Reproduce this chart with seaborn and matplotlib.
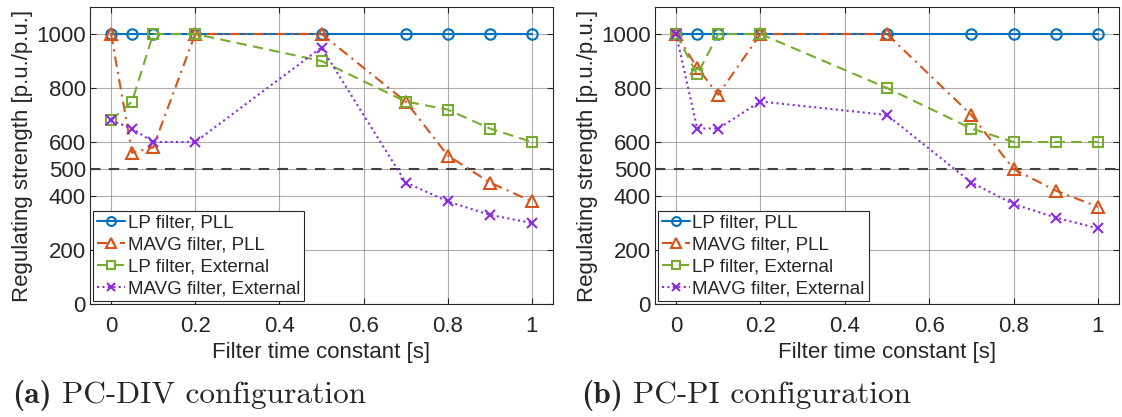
import numpy as np
import pandas as pd
import matplotlib
matplotlib.use("Agg")
import matplotlib.pyplot as plt
import seaborn as sns

# ---- data ----
time_constants = [0, 0.05, 0.1, 0.2, 0.5, 0.7, 0.8, 0.9, 1.0]
series_names = ["LP filter, PLL", "MAVG filter, PLL", "LP filter, External", "MAVG filter, External"]

div_lp_pll = [1000, 1000, 1000, 1000, 1000, 1000, 1000, 1000, 1000]
div_mavg_pll = [1000, 560, 580, 1000, 1000, 750, 550, 450, 380]
div_lp_ext = [680, 750, 1000, 1000, 900, 750, 720, 650, 600]
div_mavg_ext = [680, 650, 600, 600, 950, 450, 380, 330, 300]

pi_lp_pll = [1000, 1000, 1000, 1000, 1000, 1000, 1000, 1000, 1000]
pi_mavg_pll = [1000, 875, 775, 1000, 1000, 700, 500, 420, 360]
pi_lp_ext = [1000, 850, 1000, 1000, 800, 650, 600, 600, 600]
pi_mavg_ext = [1000, 650, 650, 750, 700, 450, 370, 320, 280]

threshold = 500
y_ticks = [0, 200, 400, 500, 600, 800, 1000]
x_ticks = [0, 0.2, 0.4, 0.6, 0.8, 1]
x_tick_labels = ["0", "0.2", "0.4", "0.6", "0.8", "1"]
captions = [("(a)", "PC-DIV configuration"), ("(b)", "PC-PI configuration")]

# ---- style ----
sns.set_theme(style="white")
plt.rcParams['font.family'] = ['Liberation Sans', 'DejaVu Sans']

colors = ["#0072BD", "#D95319", "#77AC30", "#8A2BE2"]
markers = ["o", "^", "s", "x"]
linestyles = ["-", (0, (5, 2.5, 1, 2.5)), (0, (5, 3)), (0, (1, 1.6))]
msizes = [7.5, 9, 6.5, 7]

fig = plt.figure(figsize=(11.22, 4.17), dpi=100)
W, H = 1122, 417
ax_boxes = [(90, 7, 553, 304), (655, 7, 1119, 304)]

panels = [
    [div_lp_pll, div_mavg_pll, div_lp_ext, div_mavg_ext],
    [pi_lp_pll, pi_mavg_pll, pi_lp_ext, pi_mavg_ext],
]

tc = "#262626"
FS = 16
for i, (box, panel) in enumerate(zip(ax_boxes, panels)):
    x0, y0, x1, y1 = box
    ax = fig.add_axes([x0 / W, 1 - y1 / H, (x1 - x0) / W, (y1 - y0) / H])
    rows = []
    for name, vals in zip(series_names, panel):
        for t, v in zip(time_constants, vals):
            rows.append({"t": t, "v": v, "series": name})
    df = pd.DataFrame(rows)
    ax.axhline(threshold, color="#404040", lw=1.5, ls=(0, (5, 4)), zorder=1)
    for k, name in enumerate(series_names):
        sub = df[df["series"] == name]
        sns.lineplot(data=sub, x="t", y="v", ax=ax, color=colors[k],
                     linestyle=linestyles[k], linewidth=1.5, marker=markers[k],
                     markersize=msizes[k], markerfacecolor="none" if markers[k] != "x" else colors[k],
                     markeredgecolor=colors[k], markeredgewidth=1.5, label=name,
                     zorder=3 + k)
    ax.set_xlim(-0.05, 1.05)
    ax.set_ylim(0, 1100)
    ax.set_xticks(x_ticks)
    ax.set_xticklabels(x_tick_labels)
    ax.set_yticks(y_ticks)
    ax.grid(True, color="#8a8a8a", lw=0.8, alpha=0.7)
    ax.set_axisbelow(True)
    for s in ax.spines.values():
        s.set_color(tc)
        s.set_linewidth(0.8)
        s.set_visible(True)
    ax.tick_params(direction="in", length=4, width=0.8, colors=tc, labelsize=FS,
                   top=True, right=True, bottom=True, left=True, pad=3)
    ax.tick_params(axis="x", pad=9)
    ax.set_xlabel("Filter time constant [s]", fontsize=FS, color=tc, labelpad=3)
    ax.set_ylabel("Regulating strength [p.u./p.u.]", fontsize=FS, color=tc, labelpad=2)
    leg = ax.legend(loc="lower left", fontsize=13.5, frameon=True, fancybox=False,
                    borderpad=0.2, handlelength=1.5, handletextpad=0.15,
                    labelspacing=0.25, borderaxespad=0.15, markerscale=0.85)
    leg.get_frame().set_edgecolor(tc)
    leg.get_frame().set_linewidth(0.8)
    leg.get_frame().set_alpha(1)
    for t in leg.get_texts():
        t.set_color(tc)
    # caption
    cx = [12, 581][i]
    lab, txt = captions[i]
    tb = fig.text(cx / W, 1 - 403 / H, lab, fontsize=22.6, family="cmb10", ha="left", va="baseline")
    fig.canvas.draw()
    bb = tb.get_window_extent()
    fig.text((bb.x1 + 10) / W, 1 - 403 / H, txt, fontsize=22.6, family="cmr10", ha="left", va="baseline")

fig.savefig("out.png", dpi=100)
